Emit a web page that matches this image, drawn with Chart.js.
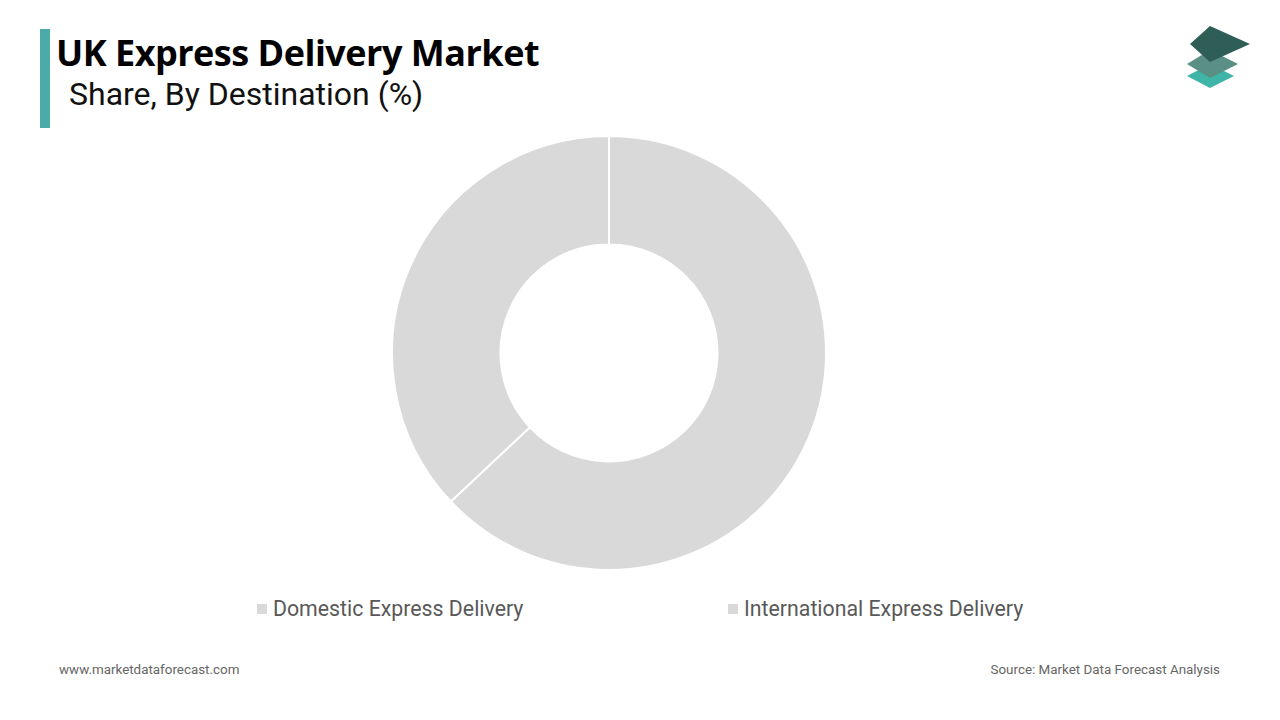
<!DOCTYPE html>
<html>
<head>
<meta charset="utf-8">
<script src="https://cdn.jsdelivr.net/npm/chart.js@4/dist/chart.umd.min.js"></script>
<style>
  body { margin: 0; width: 1280px; height: 720px; background: #fff; font-family: Roboto, "Open Sans", sans-serif; position: relative; overflow: hidden; }
  .bar { position: absolute; left: 40px; top: 29px; width: 10px; height: 99px; background: #4aaba8; }
  .title { position: absolute; left: 56px; top: 28px; font-family: "Open Sans", sans-serif; font-weight: 700; font-size: 36px; color: #000; letter-spacing: -0.5px; }
  .subtitle { position: absolute; left: 69px; top: 75px; font-size: 32px; color: #111; }
  #wrap { position: absolute; left: 0; top: 135px; width: 1218px; height: 436px; }
  .legend { position: absolute; top: 596px; font-size: 21.3px; color: #595959; display: flex; align-items: center; }
  .legend span.box { width: 10px; height: 10px; margin-right: 6px; display: inline-block; }
  .foot { position: absolute; top: 662px; font-size: 13.4px; color: #666; }
</style>
</head>
<body>
<div class="bar"></div>
<div class="title">UK Express Delivery Market</div>
<div class="subtitle">Share, By Destination (%)</div>
<svg style="position:absolute;left:1186px;top:24px" width="66" height="68">
  <polygon points="24,40 48,52 24,64 1,52" fill="#3fb5a8"/>
  <polygon points="24,26 52,40 24,54 1,40" fill="#5a8f86"/>
  <polygon points="24,2 64,20 24,38 4,20" fill="#2f5e56"/>
</svg>
<div id="wrap"><canvas id="doughnut"></canvas></div>
<div id="legend"></div>
<div class="foot" style="left:59px">www.marketdataforecast.com</div>
<div class="foot" style="right:60px">Source: Market Data Forecast Analysis</div>
<script>
// Segment names and shares
const categories = ["Domestic Express Delivery", "International Express Delivery"];
const shares = [63, 37];
const sliceColors = ["#d9d9d9", "#d9d9d9"];
const legendX = [257, 728];

function drawLegend() {
    const holder = document.getElementById('legend');
    categories.forEach((name, i) => {
        let item = document.createElement('div');
        item.className = 'legend';
        item.style.left = legendX[i] + 'px';
        item.innerHTML = '<span class="box" style="background:' + sliceColors[i] + '"></span>' + name;
        holder.appendChild(item);
    });
}

function drawChart() {
    const ctx = document.getElementById('doughnut').getContext('2d');
    new Chart(ctx, {
        type: 'doughnut',
        data: {
            labels: categories,
            datasets: [{
                data: shares,
                backgroundColor: sliceColors,
                borderColor: '#ffffff',
                borderWidth: 2
            }]
        },
        options: {
            responsive: true,
            maintainAspectRatio: false,
            animation: false,
            cutout: '50%',
            layout: { padding: 0 },
            plugins: { legend: { display: false }, tooltip: { enabled: false } }
        }
    });
}

drawLegend();
drawChart();
</script>
</body>
</html>
